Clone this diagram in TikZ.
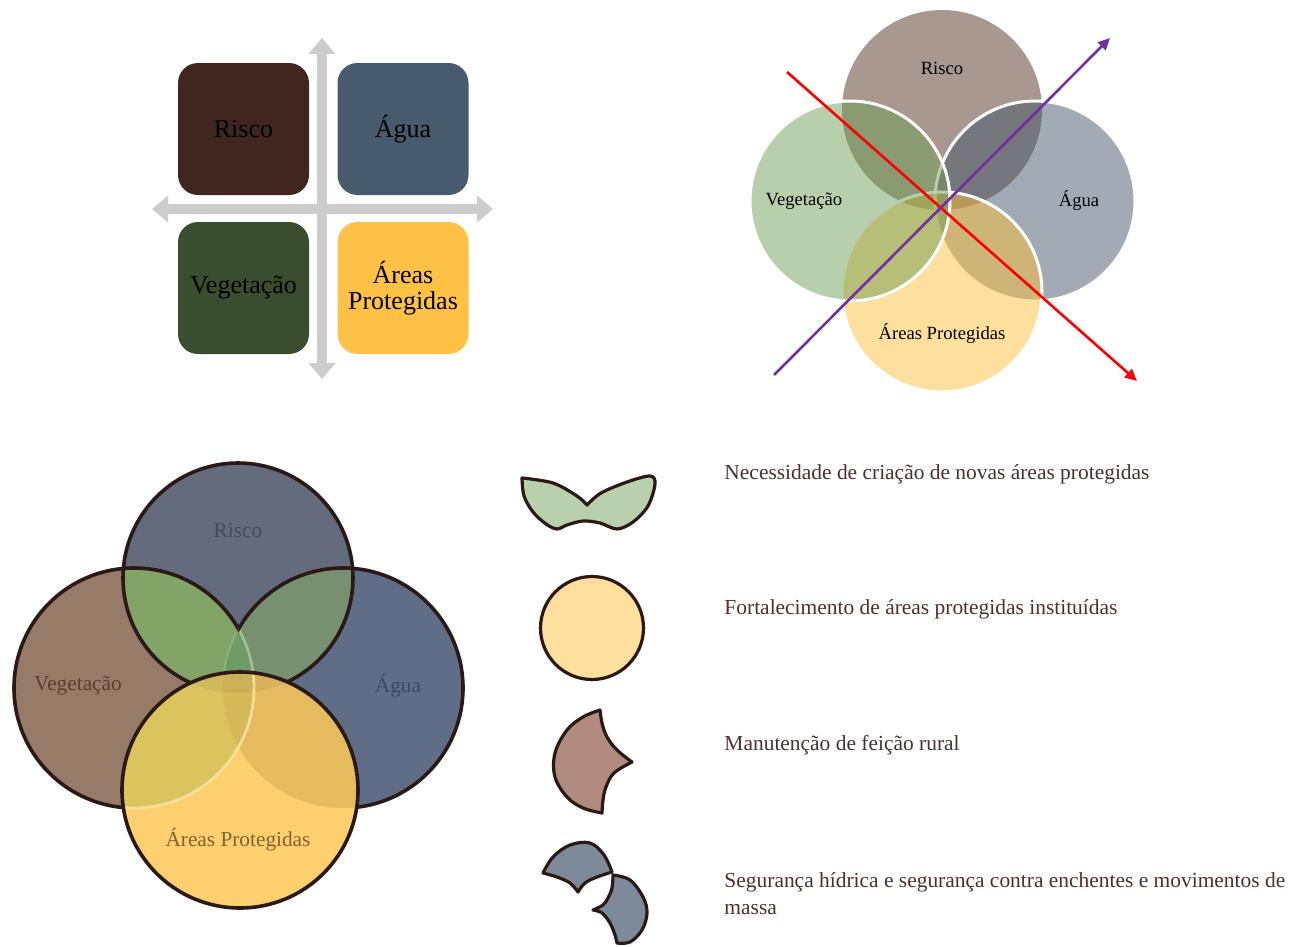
\documentclass[tikz,border=0pt]{standalone}
\usepackage{fontspec}
\setmainfont{Liberation Serif}
\usepackage{tikz}
\usetikzlibrary{arrows.meta,positioning}

% colours of the four themes
\definecolor{riscoDark}{HTML}{40261E}
\definecolor{aguaDark}{HTML}{475A6E}
\definecolor{vegDark}{HTML}{3A4D2E}
\definecolor{areasDark}{HTML}{FDC146}
\definecolor{axisGray}{HTML}{CDCBCC}
% translucent venn
\definecolor{riscoSoft}{RGB}{81,49,33}
\definecolor{aguaSoft}{RGB}{69,85,107}
\definecolor{vegSoft}{RGB}{111,159,85}
\definecolor{areasSoft}{RGB}{253,191,59}
\definecolor{crossPurple}{HTML}{7030A0}
% sketched venn
\definecolor{inkLine}{HTML}{2A1915}
\definecolor{riscoFill}{HTML}{646B7D}
\definecolor{vegFill}{HTML}{967B67}
\definecolor{aguaFill}{HTML}{5F6E86}
\definecolor{leafLeft}{HTML}{82A466}
\definecolor{leafRight}{HTML}{77906F}
\definecolor{leafMid}{HTML}{6F9B67}
\definecolor{leafRim}{HTML}{B5D6A0}
\definecolor{areasFill}{HTML}{FECF6E}
\definecolor{areasVeg}{HTML}{DBC45E}
\definecolor{areasAgua}{HTML}{E6BA5E}
\definecolor{areasMid}{HTML}{D6BA5A}
\definecolor{areasRim}{HTML}{F8E6A8}
\definecolor{riscoText}{HTML}{434B5E}
\definecolor{vegText}{HTML}{5C3F33}
\definecolor{aguaText}{HTML}{3F4B62}
\definecolor{areasText}{HTML}{82632F}
% icons and captions
\definecolor{iconLeaf}{HTML}{B8D0AC}
\definecolor{iconSun}{HTML}{FEDF9E}
\definecolor{iconBrown}{HTML}{B08B7E}
\definecolor{iconBlue}{HTML}{7D8A9A}
\definecolor{captionText}{HTML}{4A302D}

\begin{document}
\begin{tikzpicture}[x=0.5mm,y=-0.5mm]
    % Setup the styles
    \tikzset{quad box/.style={rounded corners=10mm,
                              minimum width=65.5mm,
                              minimum height=66mm,
                              inner sep=0pt,
                              align=center,
                              font=\fontsize{37}{37}\selectfont},
             axis arrow/.style={line width=5mm, draw=axisGray,
                                {Triangle[width=13mm,length=8mm]}-{Triangle[width=13mm,length=8mm]}},
             soft disc/.style={fill opacity=0.5, draw=white, line width=1.5mm},
             soft label/.style={font=\fontsize{26.5}{30}\selectfont},
             cross arrow/.style={line width=1.3mm, -{Triangle[width=5.5mm,length=6mm]}},
             ink/.style={draw=inkLine, line width=1.8mm, line join=round, line cap=round},
             icon/.style={ink, line width=1.6mm},
             sketch label/.style={font=\fontsize{30.3}{34}\selectfont},
             caption/.style={anchor=west, text=captionText, align=left,
                             font=\fontsize{30.5}{38.4}\selectfont}}
    \useasboundingbox (0,0) rectangle (1297,947);

    % Draw the axes and the four boxes
    \coordinate (axN) at (322,38);
    \coordinate (axS) at (322,379);
    \coordinate (axW) at (152,209);
    \coordinate (axE) at (493,209);
    \draw[axis arrow] (axS) -- (axN);
    \draw[axis arrow] (axW) -- (axE);
    \node[quad box, fill=riscoDark] at (243.5,129) (qRisco) {Risco};
    \node[quad box, fill=aguaDark]  at (403,129)   (qAgua)  {Água};
    \node[quad box, fill=vegDark]   at (243.5,288) (qVeg)   {Vegetação};
    \node[quad box, fill=areasDark] at (403,288)   (qAreas) {Áreas\\Protegidas};

    % Draw the translucent circles, clockwise from the top
    \coordinate (cR) at (942,110);
    \coordinate (cA) at (1035,201);
    \coordinate (cP) at (942,292);
    \coordinate (cV) at (850,201);
    \fill[fill opacity=0.5, riscoSoft] (cR) circle (100);
    \filldraw[soft disc, fill=aguaSoft]  (cA) circle (100);
    \filldraw[soft disc, fill=areasSoft] (cP) circle (100);
    \filldraw[soft disc, fill=vegSoft]   (cV) circle (100);
    \node[soft label] at (942,68)   (lRisco) {Risco};
    \node[soft label] at (1079,201) (lAgua)  {Água};
    \node[soft label] at (942,334)  (lAreas) {Áreas Protegidas};
    \node[soft label] at (804,201)  (lVeg)   {Vegetação};
    % the two crossing arrows
    \coordinate (redFrom) at (787,72);
    \coordinate (redTo)   at (1137,381);
    \coordinate (purFrom) at (774,375);
    \coordinate (purTo)   at (1110,38);
    \draw[cross arrow, red] (redFrom) -- (redTo);
    \draw[cross arrow, crossPurple] (purFrom) -- (purTo);

    % Sketched venn: base discs
    \coordinate (sR) at (238,578);
    \coordinate (sV) at (134,688);
    \coordinate (sA) at (343,688);
    \coordinate (sP) at (240,790);
    \fill[riscoFill] (sR) circle (115);
    \fill[vegFill]   (sV) circle (120);
    \fill[aguaFill]  (sA) circle (120);
    % leaves where risk meets vegetation and water
    \begin{scope}
        \clip (sR) circle (115);
        \fill[leafLeft]  (sV) circle (120);
        \fill[leafRight] (sA) circle (120);
        \clip (sV) circle (120);
        \fill[leafMid] (sA) circle (120);
    \end{scope}
    % pale rims of the middle lens
    \begin{scope}
        \clip (sR) circle (115);
        \clip (sA) circle (120);
        \draw[leafRim, line width=1.3mm, opacity=0.7] (sV) circle (120);
    \end{scope}
    \begin{scope}
        \clip (sR) circle (115);
        \clip (sV) circle (120);
        \draw[leafRim, line width=1mm, opacity=0.35] (sA) circle (120);
    \end{scope}
    % ink outlines, the halves of the side discs meet at the notch
    \draw[ink] (sR) circle (115);
    \begin{scope}
        \clip (0,400) rectangle (238.5,947);
        \draw[ink] (sV) circle (120);
    \end{scope}
    \begin{scope}
        \clip (238.5,400) rectangle (480,947);
        \draw[ink] (sA) circle (120);
    \end{scope}
    % protected areas on top
    \fill[areasFill] (sP) circle (118);
    \begin{scope}
        \clip (sP) circle (118);
        \fill[areasVeg]  (sV) circle (120);
        \fill[areasAgua] (sA) circle (120);
        \begin{scope}
            \clip (sV) circle (120);
            \fill[areasMid] (sA) circle (120);
        \end{scope}
        \fill[black, opacity=0.05] (sR) circle (115);
        \draw[areasRim, line width=1.4mm, opacity=0.8] (sV) circle (120);
    \end{scope}
    \draw[ink] (sP) circle (118);
    \node[sketch label, text=riscoText] at (238,531) (sRisco) {Risco};
    \node[sketch label, text=vegText]   at (78,686)  (sVeg)   {Vegetação};
    \node[sketch label, text=aguaText]  at (398,686) (sAgua)  {Água};
    \node[sketch label, text=areasText] at (238,840) (sAreas) {Áreas Protegidas};

    % Icons beside the captions
    \draw[icon, fill=iconLeaf]
        plot[smooth, tension=0.55] coordinates {(522,478) (553,483) (577,496) (587,505)}
        -- plot[smooth, tension=0.55] coordinates {(587,505) (601,493) (627,482) (650,476) (655,484)
            (648,506) (633,522) (617,529) (600,523) (583,521) (567,525) (557,529) (546,524)
            (533,512) (524,496) (522,478)} -- cycle;
    \draw[icon, fill=iconSun] (592,628) circle (51.5);
    \draw[icon, fill=iconBrown]
        plot[smooth, tension=0.6] coordinates {(600,710) (583,717) (567,730) (555,753) (555,777)
            (567,797) (583,808) (602,813)}
        -- plot[smooth, tension=0.6] coordinates {(602,813) (603,800) (606,787) (614,773) (632,762)}
        -- plot[smooth, tension=0.6] coordinates {(632,762) (617,750) (607,737) (602,723) (600,710)}
        -- cycle;
    \draw[icon, fill=iconBlue]
        plot[smooth, tension=0.6] coordinates {(543,873) (553,857) (570,845) (590,843) (604,855) (612,872)}
        -- plot[smooth, tension=0.6] coordinates {(612,872) (597,877) (585,883) (578,892)}
        -- plot[smooth, tension=0.6] coordinates {(578,892) (570,883) (557,877) (543,873)} -- cycle;
    \draw[icon, fill=iconBlue]
        plot[smooth, tension=0.6] coordinates {(613,875) (630,880) (643,897) (647,913) (642,930)
            (630,942) (617,943)}
        -- plot[smooth, tension=0.6] coordinates {(617,943) (615,935) (610,923) (602,913) (593,910)}
        -- plot[smooth, tension=0.6] coordinates {(593,910) (603,905) (608,898) (612,888) (613,875)}
        -- cycle;

    % Draw the captions
    \node[caption] at (722,474) (capLeaf)  {Necessidade de criação de novas áreas protegidas};
    \node[caption] at (722,609) (capSun)   {Fortalecimento de áreas protegidas instituídas};
    \node[caption] at (722,745) (capBrown) {Manutenção de feição rural};
    \node[caption] at (722,894) (capBlue)  {Segurança hídrica e segurança contra enchentes e movimentos de\\massa};
\end{tikzpicture}
\end{document}
